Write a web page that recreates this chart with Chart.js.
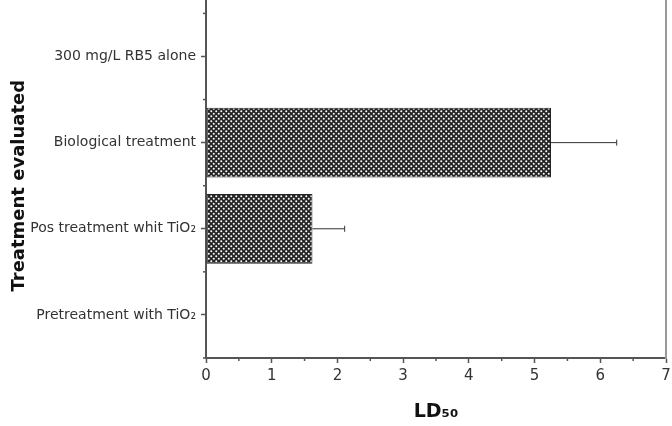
<!DOCTYPE html>
<html>
<head>
<meta charset="utf-8">
<script src="https://cdn.jsdelivr.net/npm/chart.js@4.4.1/dist/chart.umd.min.js"></script>
<style>
    html, body { margin: 0; padding: 0; background: #fff; }
    #wrap { width: 672px; height: 426px; }
</style>
</head>
<body>
<div id="wrap"><canvas id="ldChart" width="672" height="426"></canvas></div>
<script>
// Data
const treatments = ['300 mg/L RB5 alone', 'Biological treatment', 'Pos treatment whit TiO\u2082', 'Pretreatment with TiO\u2082'];
const ld50 = [null, 5.25, 1.62, null];
const ld50Err = [0, 1.0, 0.49, 0];
const xTicks = [0, 1, 2, 3, 4, 5, 6, 7];

const axisColor = '#555';
const textColor = '#333';

// Cross-hatch fill like the original bars
function makeHatch() {
    const c = document.createElement('canvas');
    c.width = 5;
    c.height = 5;
    const g = c.getContext('2d');
    g.fillStyle = '#262626';
    g.fillRect(0, 0, 5, 5);
    g.fillStyle = '#fff';
    g.beginPath();
    g.arc(1.25, 1.25, 1.0, 0, Math.PI * 2);
    g.fill();
    g.beginPath();
    g.arc(3.75, 3.75, 1.0, 0, Math.PI * 2);
    g.fill();
    return document.getElementById('ldChart').getContext('2d').createPattern(c, 'repeat');
}

// Error bars (positive side only), frame lines and minor ticks
const extrasPlugin = {
    id: 'extras',
    afterDraw(chart) {
        const { ctx, chartArea } = chart;
        const x = chart.scales.x;
        const y = chart.scales.y;
        ctx.save();

        // error bars
        ctx.strokeStyle = '#333';
        ctx.lineWidth = 1;
        ld50.forEach((v, i) => {
            if (v === null || !ld50Err[i]) return;
            const yc = y.getPixelForValue(i);
            const x0 = x.getPixelForValue(v);
            const x1 = x.getPixelForValue(v + ld50Err[i]);
            ctx.beginPath();
            ctx.moveTo(x0, yc);
            ctx.lineTo(x1, yc);
            ctx.moveTo(x1, yc - 3);
            ctx.lineTo(x1, yc + 3);
            ctx.stroke();
        });

        // left axis runs up to the top edge, right frame line
        ctx.strokeStyle = axisColor;
        ctx.lineWidth = 2;
        ctx.beginPath();
        ctx.moveTo(chartArea.left, 0);
        ctx.lineTo(chartArea.left, chartArea.top);
        ctx.stroke();
        ctx.strokeStyle = '#999';
        ctx.beginPath();
        ctx.moveTo(chartArea.right, 0);
        ctx.lineTo(chartArea.right, chartArea.bottom + 1);
        ctx.stroke();

        // minor ticks
        ctx.strokeStyle = axisColor;
        ctx.lineWidth = 1.5;
        for (let i = -0.5; i < treatments.length; i++) {
            const py = y.getPixelForValue(i);
            ctx.beginPath();
            ctx.moveTo(chartArea.left - 3, py);
            ctx.lineTo(chartArea.left, py);
            ctx.stroke();
        }
        for (let v = 0.5; v < xTicks[xTicks.length - 1]; v++) {
            const px = x.getPixelForValue(v);
            ctx.beginPath();
            ctx.moveTo(px, chartArea.bottom);
            ctx.lineTo(px, chartArea.bottom + 3);
            ctx.stroke();
        }
        ctx.restore();
    }
};

new Chart(document.getElementById('ldChart'), {
    type: 'bar',
    data: {
        labels: treatments,
        datasets: [{
            data: ld50,
            backgroundColor: makeHatch(),
            borderColor: '#222',
            borderWidth: 1,
            borderSkipped: false,
            barPercentage: 0.9,
            categoryPercentage: 0.9,
        }],
    },
    options: {
        indexAxis: 'y',
        responsive: false,
        animation: false,
        layout: { padding: { top: 13, right: 6, left: 0, bottom: 0 } },
        plugins: {
            legend: { display: false },
            tooltip: { enabled: false },
        },
        scales: {
            x: {
                type: 'linear',
                min: xTicks[0],
                max: xTicks[xTicks.length - 1],
                afterFit: (s) => {
                    s.height = 68;
                    s.paddingRight = 0;
                    s.paddingLeft = 0;
                },
                afterBuildTicks: (s) => { s.ticks = xTicks.map((v) => ({ value: v })); },
                ticks: {
                    color: textColor,
                    padding: 4,
                    font: { family: 'DejaVu Sans', size: 15 },
                    maxRotation: 0,
                },
                grid: {
                    drawOnChartArea: false,
                    drawTicks: true,
                    tickLength: 5,
                    tickColor: axisColor,
                    tickWidth: 1.5,
                },
                border: { display: true, color: axisColor, width: 2 },
                title: {
                    display: true,
                    text: 'LD\u2085\u2080',
                    color: '#111',
                    padding: { top: 0, bottom: 3 },
                    font: { family: 'DejaVu Sans', size: 19, weight: 'bold' },
                },
            },
            y: {
                afterFit: (s) => { s.width = 206; },
                ticks: {
                    color: textColor,
                    padding: 5,
                    font: { family: 'DejaVu Sans', size: 14 },
                },
                grid: {
                    offset: false,
                    drawOnChartArea: false,
                    drawTicks: true,
                    tickLength: 5,
                    tickColor: axisColor,
                    tickWidth: 1.5,
                },
                border: { display: true, color: axisColor, width: 2 },
                title: {
                    display: true,
                    text: 'Treatment evaluated',
                    color: '#111',
                    padding: { top: 9, bottom: 0 },
                    font: { family: 'DejaVu Sans', size: 18, weight: 'bold' },
                },
            },
        },
    },
    plugins: [extrasPlugin],
});
</script>
</body>
</html>
